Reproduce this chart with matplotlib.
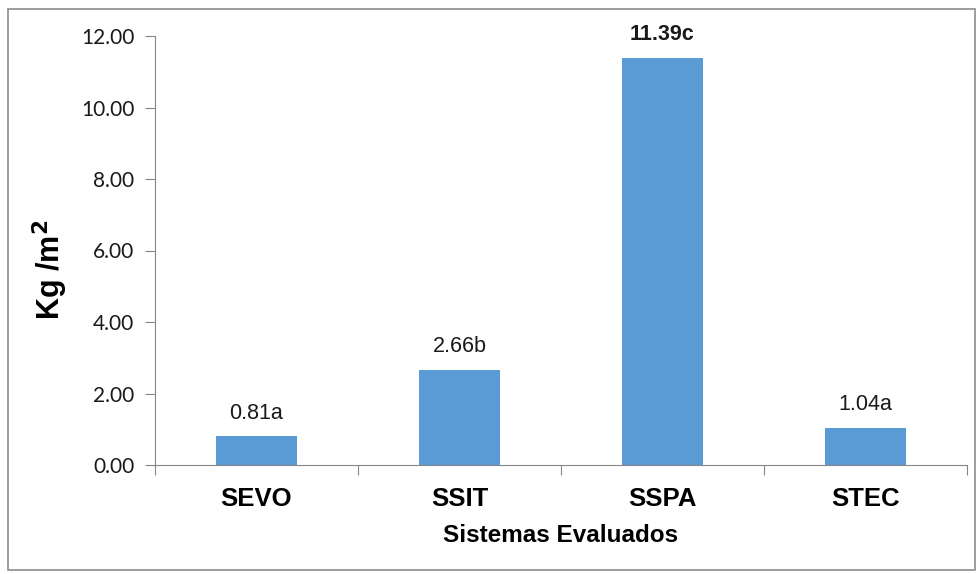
import numpy as np
import matplotlib.pyplot as plt
from matplotlib.patches import Rectangle

sistemas = ["SEVO", "SSIT", "SSPA", "STEC"]
valores = [0.81, 2.66, 11.39, 1.04]
letras = ["a", "b", "c", "a"]
yticks = [0, 2, 4, 6, 8, 10, 12]

W, H = 979, 574
fig = plt.figure(figsize=(W / 100, H / 100), dpi=100)
ax = fig.add_axes([155/W, 1 - 465/H, 812/W, 429/H])

# marco gris alrededor de todo el grafico
fig.patches.append(Rectangle((8/W, 4/H), 967/W, 561/H, transform=fig.transFigure,
                             fill=False, edgecolor="#8c8c8c", linewidth=1.2))

x = np.arange(len(sistemas))
ax.bar(x, valores, width=0.4, color="#5b9bd5")

for i, (v, l) in enumerate(zip(valores, letras)):
    peso = "bold" if v == max(valores) else "normal"
    ax.text(x[i], v + 0.35, f"{v:.2f}{l}", ha="center", va="bottom",
            fontsize=15.5, fontweight=peso, family="Liberation Sans", color="#1a1a1a")

ax.set_xlim(-0.5, len(sistemas) - 0.5)
ax.set_ylim(0, 12)
ax.set_yticks(yticks)
ax.set_yticklabels([f"{t:.2f}" for t in yticks], family="Lato", fontsize=15, color="#1a1a1a")

# ticks del eje x entre categorias
ax.set_xticks(np.arange(-0.5, len(sistemas), 1.0))
ax.set_xticklabels([])
ax.set_xticks(x, minor=True)
ax.set_xticklabels(sistemas, minor=True, fontsize=18.5, fontweight="bold",
                   family="Liberation Sans")
ax.tick_params(axis="x", which="minor", length=0, pad=16)
ax.tick_params(axis="x", which="major", length=7, color="#868686")
ax.tick_params(axis="y", length=7, color="#868686", pad=8)

for s in ["top", "right"]:
    ax.spines[s].set_visible(False)
for s in ["left", "bottom"]:
    ax.spines[s].set_color("#868686")

fig.text(0.5 * (155 + 967) / W, 1 - 535/H, "Sistemas Evaluados", ha="center", va="center",
         fontsize=17.5, fontweight="bold", family="Liberation Sans")
fig.text(50/W, 1 - 270/H, "Kg /m$^{\\mathbf{2}}$", ha="center", va="center", rotation=90,
         fontsize=22, fontweight="bold", family="Liberation Sans")

fig.savefig("out.png", dpi=100)
